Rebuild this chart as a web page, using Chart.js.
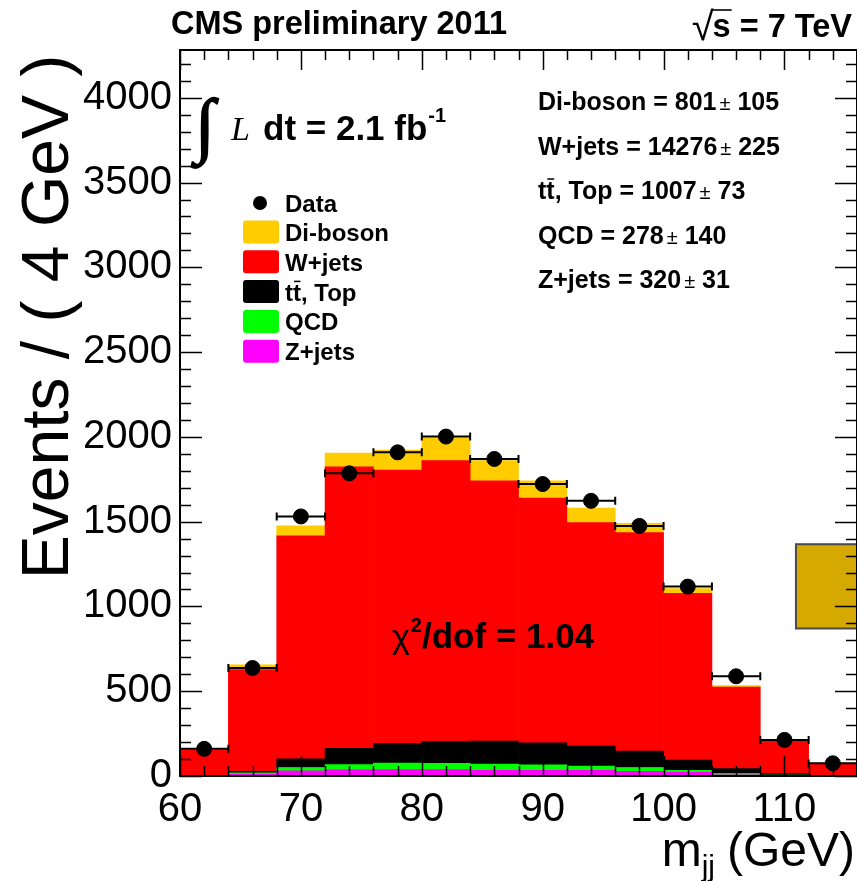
<!DOCTYPE html>
<html>
<head>
<meta charset="utf-8">
<script src="https://cdn.jsdelivr.net/npm/chart.js@4.4.1/dist/chart.umd.min.js"></script>
<style>
html,body{margin:0;padding:0;background:#fff;}
canvas{display:block;}
</style>
</head>
<body>
<canvas id="grafico" width="857" height="881"></canvas>
<script>
// bins of 4 GeV, centres
const binCenters = [62, 66, 70, 74, 78, 82, 86, 90, 94, 98, 102, 106, 110, 114];
const dataEvents = [160, 637, 1531, 1785, 1909, 2002, 1870, 1722, 1623, 1475, 1117, 588, 213, 75];

// stacked MC, bottom to top
const zJets    = [0, 12, 31, 36, 38, 38, 34, 34, 33, 28, 22, 7, 2, 0];
const qcd      = [0, 6, 19, 31, 38, 36, 36, 32, 25, 22, 12, 8, 3, 0];
const topQuark = [0, 10, 51, 96, 116, 130, 136, 129, 118, 97, 60, 29, 10, 2];
const wJets    = [155, 599, 1315, 1661, 1613, 1656, 1535, 1444, 1319, 1289, 983, 481, 197, 73];
const diBoson  = [4, 28, 59, 81, 118, 134, 119, 102, 85, 55, 29, 8, 2, 1];

const xTicks = [60, 70, 80, 90, 100, 110];
const yTicks = [0, 500, 1000, 1500, 2000, 2500, 3000, 3500, 4000];

const infoNames  = ["Di-boson", "W+jets", "tt, Top", "QCD", "Z+jets"];
const infoValues = ["801", "14276", "1007", "278", "320"];
const infoErrors = ["105", "225", "73", "140", "31"];

const FONT = '"Liberation Sans", Arial, Helvetica, sans-serif';
const SERIF = '"Liberation Serif", "Times New Roman", serif';

function pts(arr){ return binCenters.map((x,i)=>({x:x, y:arr[i]})); }

function texto(c, s, x, y, font, align){
  c.font = font;
  c.textAlign = align || "left";
  c.textBaseline = "alphabetic";
  c.fillText(s, x, y);
  return c.measureText(s).width;
}

// draws "tt" with a bar over the second t, returns width
function ttbar(c, x, y, size){
  c.font = "bold " + size + "px " + FONT;
  c.textAlign = "left";
  const wt = c.measureText("t").width;
  c.fillText("tt", x, y);
  c.beginPath();
  c.lineWidth = 1.5;
  c.moveTo(x + wt + 1, y - size*0.8);
  c.lineTo(x + 2*wt - 0.5, y - size*0.8);
  c.stroke();
  return 2*wt;
}

const moldura = {
  id: "moldura",
  afterDatasetsDraw(chart){
    const c = chart.ctx, a = chart.chartArea;
    const xs = chart.scales.x, ys = chart.scales.y;
    c.save();
    c.fillStyle = "#000";
    c.strokeStyle = "#000";

    // box on the right edge
    const bx = xs.getPixelForValue(110.95), by1 = ys.getPixelForValue(1367), by2 = ys.getPixelForValue(870);
    c.fillStyle = "#d5a900";
    c.fillRect(bx, by1, a.right - bx + 2, by2 - by1);
    c.lineWidth = 2;
    c.strokeStyle = "#4a4a4a";
    c.strokeRect(bx, by1, a.right - bx + 4, by2 - by1);
    c.fillStyle = "#000";
    c.strokeStyle = "#000";

    // horizontal error bars on data
    c.lineWidth = 2;
    binCenters.forEach((x,i)=>{
      const y = ys.getPixelForValue(dataEvents[i]);
      const x1 = xs.getPixelForValue(x - 2), x2 = xs.getPixelForValue(x + 2);
      c.beginPath();
      c.moveTo(x1, y); c.lineTo(x2, y);
      c.moveTo(x1, y - 4); c.lineTo(x1, y + 4);
      c.moveTo(x2, y - 4); c.lineTo(x2, y + 4);
      c.stroke();
    });

    // ticks (ROOT style, inward)
    c.lineWidth = 1.5;
    c.beginPath();
    for (let v = 60; v <= 116; v += 2){
      const px = Math.round(xs.getPixelForValue(v)) + 0.5;
      const len = v % 10 === 0 ? 20 : 10;
      c.moveTo(px, a.bottom); c.lineTo(px, a.bottom - len);
      c.moveTo(px, a.top); c.lineTo(px, a.top + len);
    }
    for (let v = 0; v <= 4200; v += 100){
      const py = Math.round(ys.getPixelForValue(v)) + 0.5;
      const len = v % 500 === 0 ? 22 : 11;
      c.moveTo(a.left, py); c.lineTo(a.left + len, py);
      c.moveTo(a.right, py); c.lineTo(a.right - len, py);
    }
    c.stroke();

    // frame
    c.lineWidth = 2;
    c.strokeRect(a.left, a.top, a.right - a.left, a.bottom - a.top);

    // titles
    texto(c, "CMS preliminary 2011", 171, 34, "bold 32.5px " + FONT);
    let w = texto(c, "s = 7 TeV", 852, 37, "bold 32.5px " + FONT, "right");
    const sx = 852 - w;
    c.font = "bold 32.5px " + FONT;
    const ws = c.measureText("s").width;
    texto(c, "\u221A", sx + 1, 40, "40px " + FONT, "right");
    c.beginPath(); c.lineWidth = 1.6;
    c.moveTo(sx - 1, 10); c.lineTo(sx + ws + 1, 10); c.stroke();

    // axis titles
    c.save();
    c.translate(68, 317);
    c.rotate(-Math.PI/2);
    texto(c, "Events / ( 4 GeV )", 0, 0, "66px " + FONT, "center");
    c.restore();

    let xr = 855;
    xr -= texto(c, "(GeV)", xr, 866, "48px " + FONT, "right");
    xr -= 12;
    xr -= texto(c, "jj", xr, 876, "30px " + FONT, "right");
    texto(c, "m", xr, 866, "48px " + FONT, "right");

    // luminosity
    c.lineWidth = 1.6;
    c.font = "72px " + SERIF;
    c.textAlign = "left";
    c.fillText("\u222B", 195, 149);
    c.strokeText("\u222B", 195, 149);
    texto(c, "L", 231, 140, "italic 34px " + SERIF);
    let lx = 263;
    lx += texto(c, "dt = 2.1 fb", lx, 140, "bold 35px " + FONT);
    texto(c, "-1", lx + 1, 122, "bold 20px " + FONT);

    // yields
    infoNames.forEach((n,i)=>{
      const y = 110 + i*44.5;
      let x = 538;
      if (n.startsWith("tt")){
        x += ttbar(c, x, y, 25);
        x += texto(c, n.slice(2), x, y, "bold 25px " + FONT);
      } else {
        x += texto(c, n, x, y, "bold 25px " + FONT);
      }
      x += texto(c, " = " + infoValues[i], x, y, "bold 25px " + FONT);
      x += 3;
      x += texto(c, "\u00B1", x, y, "20px " + FONT);
      texto(c, " " + infoErrors[i], x, y, "bold 25px " + FONT);
    });

    // legend
    const legend = chart.data.datasets.slice(1).reverse();
    c.beginPath();
    c.arc(260, 203, 7, 0, Math.PI*2);
    c.fill();
    texto(c, "Data", 285, 212, "bold 24px " + FONT);
    legend.forEach((d,i)=>{
      const cy = 232 + i*29.8;
      c.fillStyle = d.backgroundColor;
      c.beginPath();
      c.roundRect(243, cy - 11.5, 36, 23, 3);
      c.fill();
      c.fillStyle = "#000";
      if (d.label.startsWith("tt")){
        const x = 285 + ttbar(c, 285, cy + 9, 24);
        texto(c, d.label.slice(2), x, cy + 9, "bold 24px " + FONT);
      } else {
        texto(c, d.label, 285, cy + 9, "bold 24px " + FONT);
      }
    });

    // chi2
    let cx = 392;
    cx += texto(c, "\u03C7", cx, 648, "34px " + FONT);
    cx += texto(c, "2", cx + 1, 632, "bold 20px " + FONT) + 1;
    texto(c, "/dof = 1.04", cx, 648, "bold 35px " + FONT);

    c.restore();
  }
};

new Chart(document.getElementById("grafico"), {
  type: "bar",
  data: {
    datasets: [
      {type: "scatter", label: "Data", data: pts(dataEvents), backgroundColor: "#000", borderColor: "#000",
       pointRadius: 7.5, pointHoverRadius: 7.5, order: 0, stack: "data", clip: false},
      {label: "Z+jets", data: pts(zJets), backgroundColor: "#ff00ff", stack: "mc", order: 1},
      {label: "QCD", data: pts(qcd), backgroundColor: "#00ff00", stack: "mc", order: 1},
      {label: "tt, Top", data: pts(topQuark), backgroundColor: "#000000", stack: "mc", order: 1},
      {label: "W+jets", data: pts(wJets), backgroundColor: "#ff0000", stack: "mc", order: 1},
      {label: "Di-boson", data: pts(diBoson), backgroundColor: "#ffcc00", stack: "mc", order: 1}
    ]
  },
  options: {
    responsive: false,
    animation: false,
    devicePixelRatio: 1,
    layout: {autoPadding: false, padding: {top: 50, left: 0, right: 0, bottom: 0}},
    datasets: {bar: {barPercentage: 1, categoryPercentage: 1, borderWidth: 0}},
    plugins: {legend: {display: false}, tooltip: {enabled: false}},
    scales: {
      x: {
        type: "linear", min: 60, max: 116, offset: false, stacked: true,
        grid: {display: false, drawTicks: false}, border: {display: false},
        ticks: {font: {family: FONT, size: 40}, color: "#000", padding: 10, maxRotation: 0, autoSkip: false,
                callback: v => String(v)},
        afterBuildTicks: s => { s.ticks = xTicks.map(v => ({value: v})); },
        afterFit: s => { s.height = 105; s.paddingLeft = 0; s.paddingRight = 0; }
      },
      y: {
        type: "linear", min: 0, max: 4282, stacked: true,
        grid: {display: false, drawTicks: false}, border: {display: false},
        ticks: {font: {family: FONT, size: 40}, color: "#000", padding: 8, autoSkip: false,
                callback: v => String(v)},
        afterBuildTicks: s => { s.ticks = yTicks.map(v => ({value: v})); },
        afterFit: s => { s.width = 180; s.paddingTop = 0; s.paddingBottom = 0; }
      }
    }
  },
  plugins: [moldura]
});
</script>
</body>
</html>
